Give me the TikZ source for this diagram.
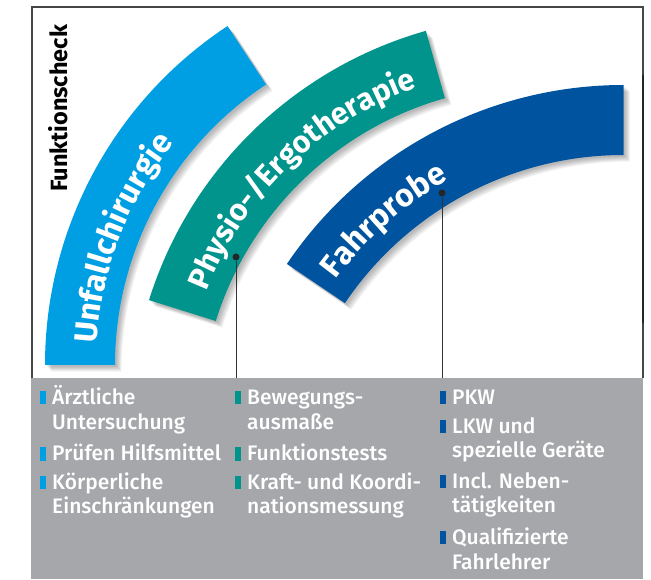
\documentclass[tikz,border=0pt]{standalone}
\usepackage{fontspec}
\setmainfont{Fira Sans}
\IfFontExistsTF{Fira Sans Medium}
  {\newfontfamily\entryface{Fira Sans Medium}}
  {\newfontfamily\entryface{Fira Sans}}
\usetikzlibrary{decorations.text}

\definecolor{unfallblue}{RGB}{0,159,227}
\definecolor{physioteal}{RGB}{0,148,141}
\definecolor{fahrblue}{RGB}{0,84,159}
\definecolor{panelgray}{RGB}{166,167,171}
\definecolor{framegray}{RGB}{70,70,72}

\newcommand{\arcfont}{\fontsize{32}{32}\selectfont\bfseries}
\newcommand{\entryfont}{\entryface\fontsize{21}{25}\selectfont}
% band between radius 336pt and 406pt, from angle #1 to angle #2
\newcommand{\bandpath}[2]{(#1:406pt) arc[start angle=#1, end angle=#2, radius=406pt] -- (#2:336pt) arc[start angle=#2, end angle=#1, radius=336pt] -- cycle}

\begin{document}
\begin{tikzpicture}[x=1pt, y=1pt,
    bullet/.style={rectangle, minimum width=5.5pt, minimum height=13pt, inner sep=0pt, anchor=south west},
    entry/.style={anchor=base west, inner sep=0pt, text=white, font=\entryfont},
    dot/.style={circle, fill=black!85, minimum size=7pt, inner sep=0pt},
    link/.style={black!80, line width=0.9pt}]
\useasboundingbox (0,0) rectangle (651,579);

% Grey panel and frame
\fill[panelgray] (31,0) rectangle (643,201);
\draw[framegray, line width=1.4pt] (32,201) -- (32,572) -- (643,572) -- (643,201);
\draw[black!85, line width=2.2pt] (643,504) -- (643,256);

% Side label
\node[rotate=90, anchor=base, font=\fontsize{23.5}{23.5}\selectfont\bfseries] (check) at (67,470.5) {Funktionscheck};

% Unfallchirurgie
\foreach \k in {1,...,8}
  \fill[black, opacity=0.04, shift={(451,214)}, shift={(0.7*\k+1,-0.7*\k-1)}] \bandpath{180}{123.4};
\fill[unfallblue, shift={(451,214)}] \bandpath{180}{123.4};
\path[shift={(451,214)}, decorate, decoration={text along path, text color=white,
    text={|\arcfont|Unfallchirurgie}}] (176.5:355pt) arc[start angle=176.5, end angle=123.4, radius=355pt];

% Physio-/Ergotherapie
\foreach \k in {1,...,8}
  \fill[black, opacity=0.04, shift={(536.4,157.5)}, shift={(0.7*\k+1,-0.7*\k-1)}] \bandpath{162.6}{105.8};
\fill[physioteal, shift={(536.4,157.5)}] \bandpath{162.6}{105.8};
\path[shift={(536.4,157.5)}, decorate, decoration={text along path, text color=white,
    text={|\fontsize{30.5}{30.5}\selectfont\bfseries|Physio-/Ergotherapie}}] (158.5:355pt) arc[start angle=158.5, end angle=105.8, radius=355pt];

% Fahrprobe
\foreach \k in {1,...,8}
  \fill[black, opacity=0.04, shift={(623.5,88)}, shift={(0.7*\k+1,-0.7*\k-1)}] \bandpath{146}{90};
\fill[fahrblue, shift={(623.5,88)}] \bandpath{146}{90};
\path[shift={(623.5,88)}, decorate, decoration={text along path, text color=white,
    text={|\arcfont|Fahrprobe}}] (143.7:357pt) arc[start angle=143.7, end angle=90, radius=357pt];

% Connectors
\node[dot] (dotPhysio) at (236,322) {};
\node[dot] (dotFahr) at (442,386) {};
\coordinate (endPhysio) at (236,201);
\coordinate (endFahr) at (442,201);
\draw[link] (dotPhysio) -- (endPhysio);
\draw[link] (dotFahr) -- (endFahr);

% Column 1
\node[bullet, fill=unfallblue] (bAerztl) at (40,174.7) {};
\node[entry] (aerztl) at (52,174.7) {\parbox[t]{180pt}{Ärztliche\\Untersuchung}};
\node[bullet, fill=unfallblue] (bPruef) at (40,118.3) {};
\node[entry] (pruef) at (52,118.3) {Prüfen Hilfsmittel};
\node[bullet, fill=unfallblue] (bKoerp) at (40,90) {};
\node[entry] (koerp) at (52,90) {\parbox[t]{180pt}{Körperliche\\Einschränkungen}};

% Column 2
\node[bullet, fill=physioteal] (bBeweg) at (235,174.7) {};
\node[entry] (beweg) at (247,174.7) {\parbox[t]{180pt}{Bewegungs-\\ausmaße}};
\node[bullet, fill=physioteal] (bFunkt) at (235,118.3) {};
\node[entry] (funkt) at (247,118.3) {Funktionstests};
\node[bullet, fill=physioteal] (bKraft) at (235,90) {};
\node[entry] (kraft) at (247,90) {\parbox[t]{180pt}{Kraft- und Koordi-\\nationsmessung}};

% Column 3
\node[bullet, fill=fahrblue] (bPkw) at (440,175) {};
\node[entry] (pkw) at (452,175) {PKW};
\node[bullet, fill=fahrblue] (bLkw) at (440,146) {};
\node[entry] (lkw) at (452,146) {\parbox[t]{180pt}{LKW und\\spezielle Geräte}};
\node[bullet, fill=fahrblue] (bIncl) at (440,91) {};
\node[entry] (incl) at (452,91) {\parbox[t]{180pt}{Incl. Neben-\\tätigkeiten}};
\node[bullet, fill=fahrblue] (bQuali) at (440,34.5) {};
\node[entry] (quali) at (452,34.5) {\parbox[t]{180pt}{Qualifizierte\\Fahrlehrer}};
\end{tikzpicture}
\end{document}
